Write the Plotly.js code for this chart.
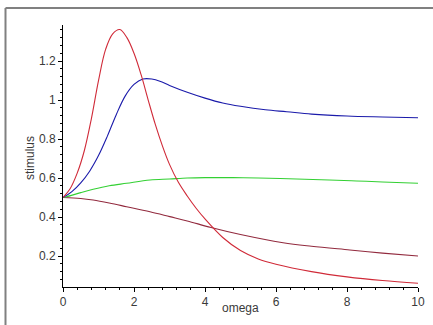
<!DOCTYPE html>
<html>
<head>
<meta charset="utf-8">
<script src="https://cdn.plot.ly/plotly-3.0.1.min.js"></script>
<style>html,body{margin:0;padding:0;background:#fff;}#chart{width:433px;height:325px;}</style>
</head>
<body>
<div id="chart"></div>
<script>
// Data
const redX   = [0, 0.2, 0.4, 0.6, 0.8, 1.0, 1.2, 1.4, 1.6, 1.8, 2.0, 2.2, 2.4, 2.6, 2.8, 3.0, 3.25, 3.5, 3.75, 4.0, 4.5, 5.0, 5.5, 6.0, 7.0, 8.0, 9.0, 10.0];
const redY   = [0.5, 0.545, 0.625, 0.74, 0.905, 1.1, 1.26, 1.34, 1.362, 1.32, 1.24, 1.13, 1.0, 0.875, 0.765, 0.67, 0.578, 0.508, 0.445, 0.39, 0.295, 0.228, 0.185, 0.158, 0.12, 0.093, 0.074, 0.06];
const blueX  = [0, 0.25, 0.5, 0.75, 1.0, 1.25, 1.5, 1.75, 2.0, 2.25, 2.5, 2.75, 3.0, 3.5, 4.0, 4.5, 5.0, 5.7, 6.3, 7.0, 8.0, 9.0, 10.0];
const blueY  = [0.5, 0.53, 0.575, 0.635, 0.715, 0.815, 0.925, 1.02, 1.08, 1.108, 1.108, 1.095, 1.075, 1.04, 1.01, 0.985, 0.968, 0.95, 0.94, 0.928, 0.918, 0.913, 0.909];
const greenX = [0, 0.1, 0.5, 0.85, 1.3, 1.79, 2.45, 3.0, 3.5, 4.0, 4.79, 5.5, 6.58, 7.5, 8.27, 9.0, 10.0];
const greenY = [0.5, 0.504, 0.525, 0.542, 0.56, 0.573, 0.59, 0.595, 0.6, 0.602, 0.602, 0.6, 0.595, 0.59, 0.585, 0.58, 0.573];
const brownX = [0, 0.5, 0.85, 1.3, 1.79, 2.45, 3.01, 3.5, 4.17, 5.0, 6.2, 7.0, 8.08, 9.0, 10.0];
const brownY = [0.5, 0.495, 0.487, 0.472, 0.453, 0.427, 0.402, 0.38, 0.346, 0.31, 0.268, 0.25, 0.231, 0.215, 0.2];
const xTicks = [0, 2, 4, 6, 8, 10];
const yTicks = [0.2, 0.4, 0.6, 0.8, 1, 1.2];
const yTickText = ["0.2", "0.4", "0.6", "0.8", "1", "1.2"];

function tr(x, y, c) {
  return {x: x, y: y, type: 'scatter', mode: 'lines', hoverinfo: 'skip',
          line: {color: c, width: 1.1, shape: 'spline', smoothing: 1}};
}
const data = [
  tr(brownX, brownY, '#922a3e'),
  tr(greenX, greenY, '#33d033'),
  tr(blueX, blueY, '#1a1aaa'),
  tr(redX, redY, '#d02a38')
];
const tickFont = {family: 'Liberation Sans, Arial, sans-serif', size: 12, color: '#3a3a3a'};
const layout = {
  width: 433, height: 325,
  margin: {l: 63, r: 15, t: 25, b: 38, pad: 0},
  paper_bgcolor: '#fff', plot_bgcolor: '#fff',
  showlegend: false,
  xaxis: {
    range: [0, 10], tickvals: xTicks, ticktext: xTicks.map(String),
    showgrid: false, zeroline: false, showline: true, linecolor: '#000', linewidth: 1,
    ticks: 'outside', ticklen: 4, tickcolor: '#000', tickwidth: 1,
    minor: {dtick: 0.4, tick0: 0, ticks: 'outside', ticklen: 2, tickcolor: '#000', showgrid: false},
    tickfont: tickFont, fixedrange: true
  },
  yaxis: {
    range: [0.041, 1.385], tickvals: yTicks, ticktext: yTickText,
    showgrid: false, zeroline: false, showline: true, linecolor: '#000', linewidth: 1,
    ticks: 'outside', ticklen: 4, tickcolor: '#000', tickwidth: 1,
    minor: {dtick: 0.04, tick0: 0, ticks: 'outside', ticklen: 2, tickcolor: '#000', showgrid: false},
    tickfont: tickFont, fixedrange: true
  },
  annotations: [
    {text: 'stimulus', xref: 'paper', yref: 'paper', x: (30 - 63) / 355, y: (287 - 158) / 262,
     showarrow: false, textangle: -90, xanchor: 'center', yanchor: 'middle',
     font: {family: 'Liberation Sans, Arial, sans-serif', size: 12, color: '#3a3a3a'}},
    {text: 'omega', xref: 'paper', yref: 'paper', x: (240 - 63) / 355, y: (287 - 308) / 262,
     showarrow: false, xanchor: 'center', yanchor: 'middle',
     font: {family: 'Liberation Sans, Arial, sans-serif', size: 12, color: '#3a3a3a'}}
  ],
  shapes: [
    {type: 'line', xref: 'paper', yref: 'paper', x0: (5.5 - 63) / 355, x1: (440 - 63) / 355,
     y0: (287 - 8) / 262, y1: (287 - 8) / 262, line: {color: '#808080', width: 2}},
    {type: 'line', xref: 'paper', yref: 'paper', x0: (5.5 - 63) / 355, x1: (5.5 - 63) / 355,
     y0: (287 - 8) / 262, y1: (287 - 330) / 262, line: {color: '#808080', width: 2}}
  ]
};
Plotly.newPlot('chart', data, layout, {staticPlot: true, displayModeBar: false});
</script>
</body>
</html>
